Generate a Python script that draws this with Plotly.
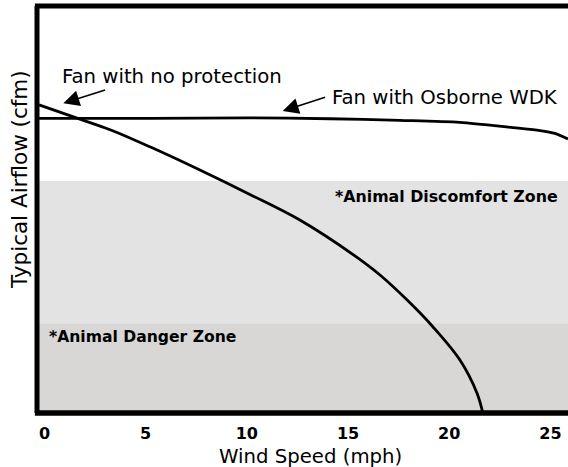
import plotly.graph_objects as go

# ---- data ----
wind_no_prot = [-0.27, 1.75, 3.24, 5.21, 7.68, 10.15, 12.62, 15.34, 16.58, 17.91, 19.19, 20.53, 21.37, 21.66]
flow_no_prot = [75.7, 72.2, 69.6, 65.4, 59.7, 53.7, 47.4, 38.6, 33.9, 27.8, 21.2, 13.0, 4.9, 0.0]

wind_wdk = [-0.27, 5.21, 10.15, 14.11, 17.56, 20.53, 23.15, 24.48, 25.22, 25.87]
flow_wdk = [72.4, 72.4, 72.5, 72.3, 71.9, 71.4, 70.1, 69.4, 68.7, 67.3]

discomfort_top = 57.0
danger_top = 21.9

x_ticks = [0, 5, 10, 15, 20, 25]
x_tick_labels = ["0", "5", "10", "15", "20", "25"]

REG = "DejaVu Sans"
fig = go.Figure()

fig.add_trace(go.Scatter(x=wind_no_prot, y=flow_no_prot, mode="lines",
                         line=dict(color="black", width=2.8, shape="spline", smoothing=1.0),
                         hoverinfo="skip", showlegend=False))
fig.add_trace(go.Scatter(x=wind_wdk, y=flow_wdk, mode="lines",
                         line=dict(color="black", width=2.8, shape="spline", smoothing=0.8),
                         hoverinfo="skip", showlegend=False))

shapes = [
    dict(type="rect", xref="paper", yref="y", x0=0, x1=1, y0=0, y1=discomfort_top,
         fillcolor="#e3e3e3", line=dict(width=0), layer="below"),
    dict(type="rect", xref="paper", yref="y", x0=0, x1=1, y0=0, y1=danger_top,
         fillcolor="#d8d7d6", line=dict(width=0), layer="below"),
    # frame
    dict(type="line", xref="paper", yref="paper", x0=0, x1=0, y0=0, y1=1,
         line=dict(color="black", width=5)),
    dict(type="line", xref="paper", yref="paper", x0=-0.004, x1=1, y0=1, y1=1,
         line=dict(color="black", width=5)),
    dict(type="line", xref="paper", yref="paper", x0=-0.004, x1=1, y0=0, y1=0,
         line=dict(color="black", width=5.5)),
]

annotations = [
    dict(x=0.78, y=82.6, xref="x", yref="y", text="Fan with no protection", showarrow=False,
         xanchor="left", yanchor="middle", font=dict(family=REG, size=19.7, color="black")),
    dict(x=14.12, y=77.6, xref="x", yref="y", text="Fan with Osborne WDK", showarrow=False,
         xanchor="left", yanchor="middle", font=dict(family=REG, size=19.7, color="black")),
    dict(x=0.93, y=76.1, ax=3.07, ay=79.5, xref="x", yref="y", axref="x", ayref="y",
         text="", showarrow=True, arrowhead=2, arrowsize=2, arrowwidth=1.6, arrowcolor="black"),
    dict(x=11.77, y=74.2, ax=13.94, ay=77.7, xref="x", yref="y", axref="x", ayref="y",
         text="", showarrow=True, arrowhead=2, arrowsize=2, arrowwidth=1.6, arrowcolor="black"),
    dict(x=25.47, y=53.3, xref="x", yref="y", text="*Animal Discomfort Zone", showarrow=False,
         xanchor="right", yanchor="middle", font=dict(family=REG, size=15.8, color="black", weight="bold")),
    dict(x=0.11, y=18.7, xref="x", yref="y", text="*Animal Danger Zone", showarrow=False,
         xanchor="left", yanchor="middle", font=dict(family=REG, size=15.6, color="black", weight="bold")),
    dict(x=310, y=456, xref="paper", yref="paper", text="Wind Speed (mph)", showarrow=False,
         xanchor="center", yanchor="middle", font=dict(family=REG, size=19.7, color="black")),
    dict(x=19, y=180, xref="paper", yref="paper", text="Typical Airflow (cfm)", showarrow=False,
         textangle=-90, xanchor="center", yanchor="middle", font=dict(family=REG, size=21.5, color="black")),
]

W, H = 568, 467
ML, MR, MT, MB = 37, 0, 6, 54
pw, ph = W - ML - MR, H - MT - MB
# convert the two pixel-placed titles into paper coords
for a in annotations:
    if a.get("xref") == "paper" and a["x"] > 2:
        a["x"] = (a["x"] - ML) / pw
        a["y"] = (H - MB - a["y"]) / ph

fig.update_layout(
    width=W, height=H,
    margin=dict(l=ML, r=MR, t=MT, b=MB, pad=0),
    paper_bgcolor="white", plot_bgcolor="white",
    shapes=shapes, annotations=annotations,
    xaxis=dict(range=[-0.37, 25.87], tickmode="array", tickvals=x_ticks, ticktext=x_tick_labels,
               showgrid=False, zeroline=False, showline=False, ticks="",
               ticklabelstandoff=9,
               tickfont=dict(family=REG, size=16, color="black", weight="bold"),
               fixedrange=True),
    yaxis=dict(range=[0, 100], showgrid=False, zeroline=False, showline=False,
               showticklabels=False, ticks="", fixedrange=True),
    showlegend=False,
)

fig.write_html("out.html", config={"displayModeBar": False},
               post_script="document.body.style.margin='0px';document.body.style.overflow='hidden';")
